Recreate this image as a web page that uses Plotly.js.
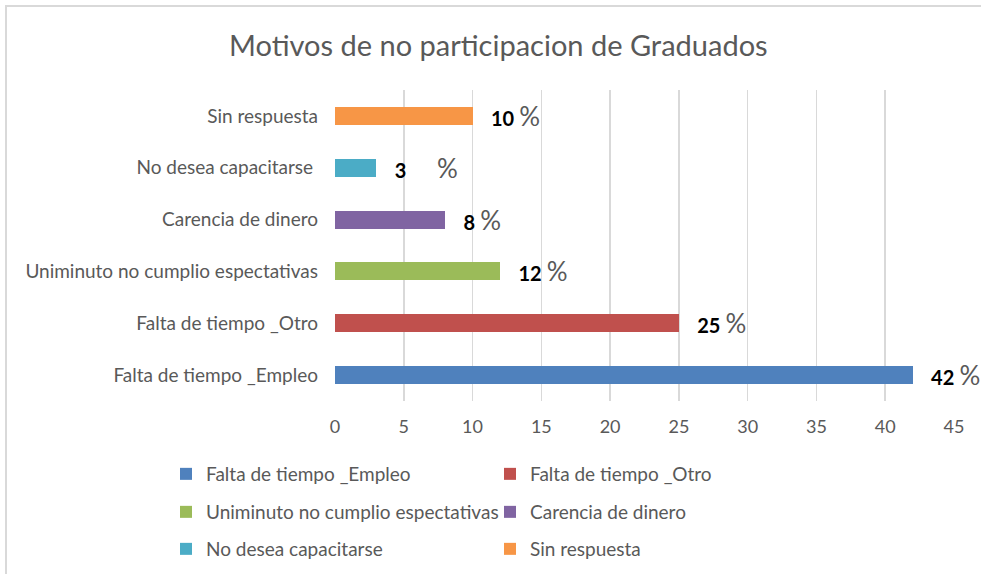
<!DOCTYPE html>
<html>
<head>
<meta charset="utf-8">
<script src="https://cdn.plot.ly/plotly-3.0.1.min.js"></script>
<style>
  html, body { margin: 0; padding: 0; background: #ffffff; }
  #wrap { position: relative; width: 981px; height: 574px; overflow: hidden; }
  #chart { position: absolute; left: 0; top: 0; width: 981px; height: 574px; }
  #frame { position: absolute; left: 5px; top: 5px; width: 990px; height: 600px;
           border-left: 2px solid #d9d9d9; border-top: 2px solid #d9d9d9; pointer-events: none; }
</style>
</head>
<body>
<div id="wrap">
  <div id="chart"></div>
  <div id="frame"></div>
</div>
<script>
// Data (bottom to top on the chart)
const categories = [
  "Falta de tiempo _Empleo",
  "Falta de tiempo _Otro",
  "Uniminuto no cumplio espectativas",
  "Carencia de dinero",
  "No desea capacitarse ",
  "Sin respuesta"
];
const values = [42, 25, 12, 8, 3, 10];
const colors = ["#4f81bd", "#c0504d", "#9bbb59", "#8064a2", "#4bacc6", "#f79646"];
const xTicks = [0, 5, 10, 15, 20, 25, 30, 35, 40, 45];
const titleText = "Motivos de no participacion de Graduados";

const FONT = "Lato, 'Noto Sans', sans-serif";
const GRAY = "#595959";

// legend grid: 2 columns x 3 rows, one legend per entry
const legendIds = ["legend", "legend2", "legend3", "legend4", "legend5", "legend6"];
const legendColX = [166, 490];
const legendRowY = [474, 512, 549];

const traces = categories.map((c, i) => {
  const gap = values[i] < 5 ? "&nbsp;&nbsp;&nbsp;&nbsp;&nbsp;&nbsp;" : "&nbsp;";
  return {
    type: "bar",
    orientation: "h",
    name: c.trim(),
    y: [c],
    x: [values[i]],
    width: 0.35,
    marker: { color: colors[i], line: { width: 0 } },
    text: ["&nbsp;&nbsp;&nbsp;<b>" + values[i] + "</b>" + gap + "<span style='font-size:26px;color:#595959;font-weight:normal'>%</span>"],
    textposition: "outside",
    constraintext: "none",
    cliponaxis: false,
    textfont: { family: FONT, size: 20, color: "#000000" },
    hoverinfo: "skip",
    legend: legendIds[i]
  };
});

const layout = {
  width: 981,
  height: 574,
  margin: { l: 335, r: 27, t: 90, b: 173 },
  paper_bgcolor: "#ffffff",
  plot_bgcolor: "#ffffff",
  barmode: "stack",
  showlegend: true,
  font: { family: FONT, color: GRAY },
  title: {
    text: titleText,
    font: { family: FONT, size: 29, color: GRAY },
    xref: "container", yref: "container",
    x: 0.508, xanchor: "center",
    y: 1 - 46 / 574, yanchor: "middle"
  },
  xaxis: {
    range: [0, 45],
    tickvals: xTicks,
    ticktext: xTicks.map(String),
    showgrid: true,
    gridcolor: "#d9d9d9",
    gridwidth: 1.5,
    zeroline: false,
    showline: false,
    ticks: "",
    ticklabelstandoff: 13,
    tickfont: { family: FONT, size: 18, color: GRAY },
    fixedrange: true
  },
  yaxis: {
    type: "category",
    categoryorder: "array",
    categoryarray: categories,
    showgrid: false,
    zeroline: false,
    showline: false,
    ticks: "",
    ticklabelstandoff: 16,
    tickfont: { family: FONT, size: 19, color: GRAY },
    fixedrange: true
  }
};

legendIds.forEach((id, i) => {
  const col = i % 2, row = Math.floor(i / 2);
  layout[id] = {
    orientation: "h",
    xref: "container",
    yref: "container",
    x: legendColX[col] / 981,
    xanchor: "left",
    y: 1 - legendRowY[row] / 574,
    yanchor: "middle",
    font: { family: FONT, size: 19, color: GRAY },
    bgcolor: "rgba(0,0,0,0)",
    borderwidth: 0
  };
});

Plotly.newPlot("chart", traces, layout, { displayModeBar: false, staticPlot: true });
</script>
</body>
</html>
